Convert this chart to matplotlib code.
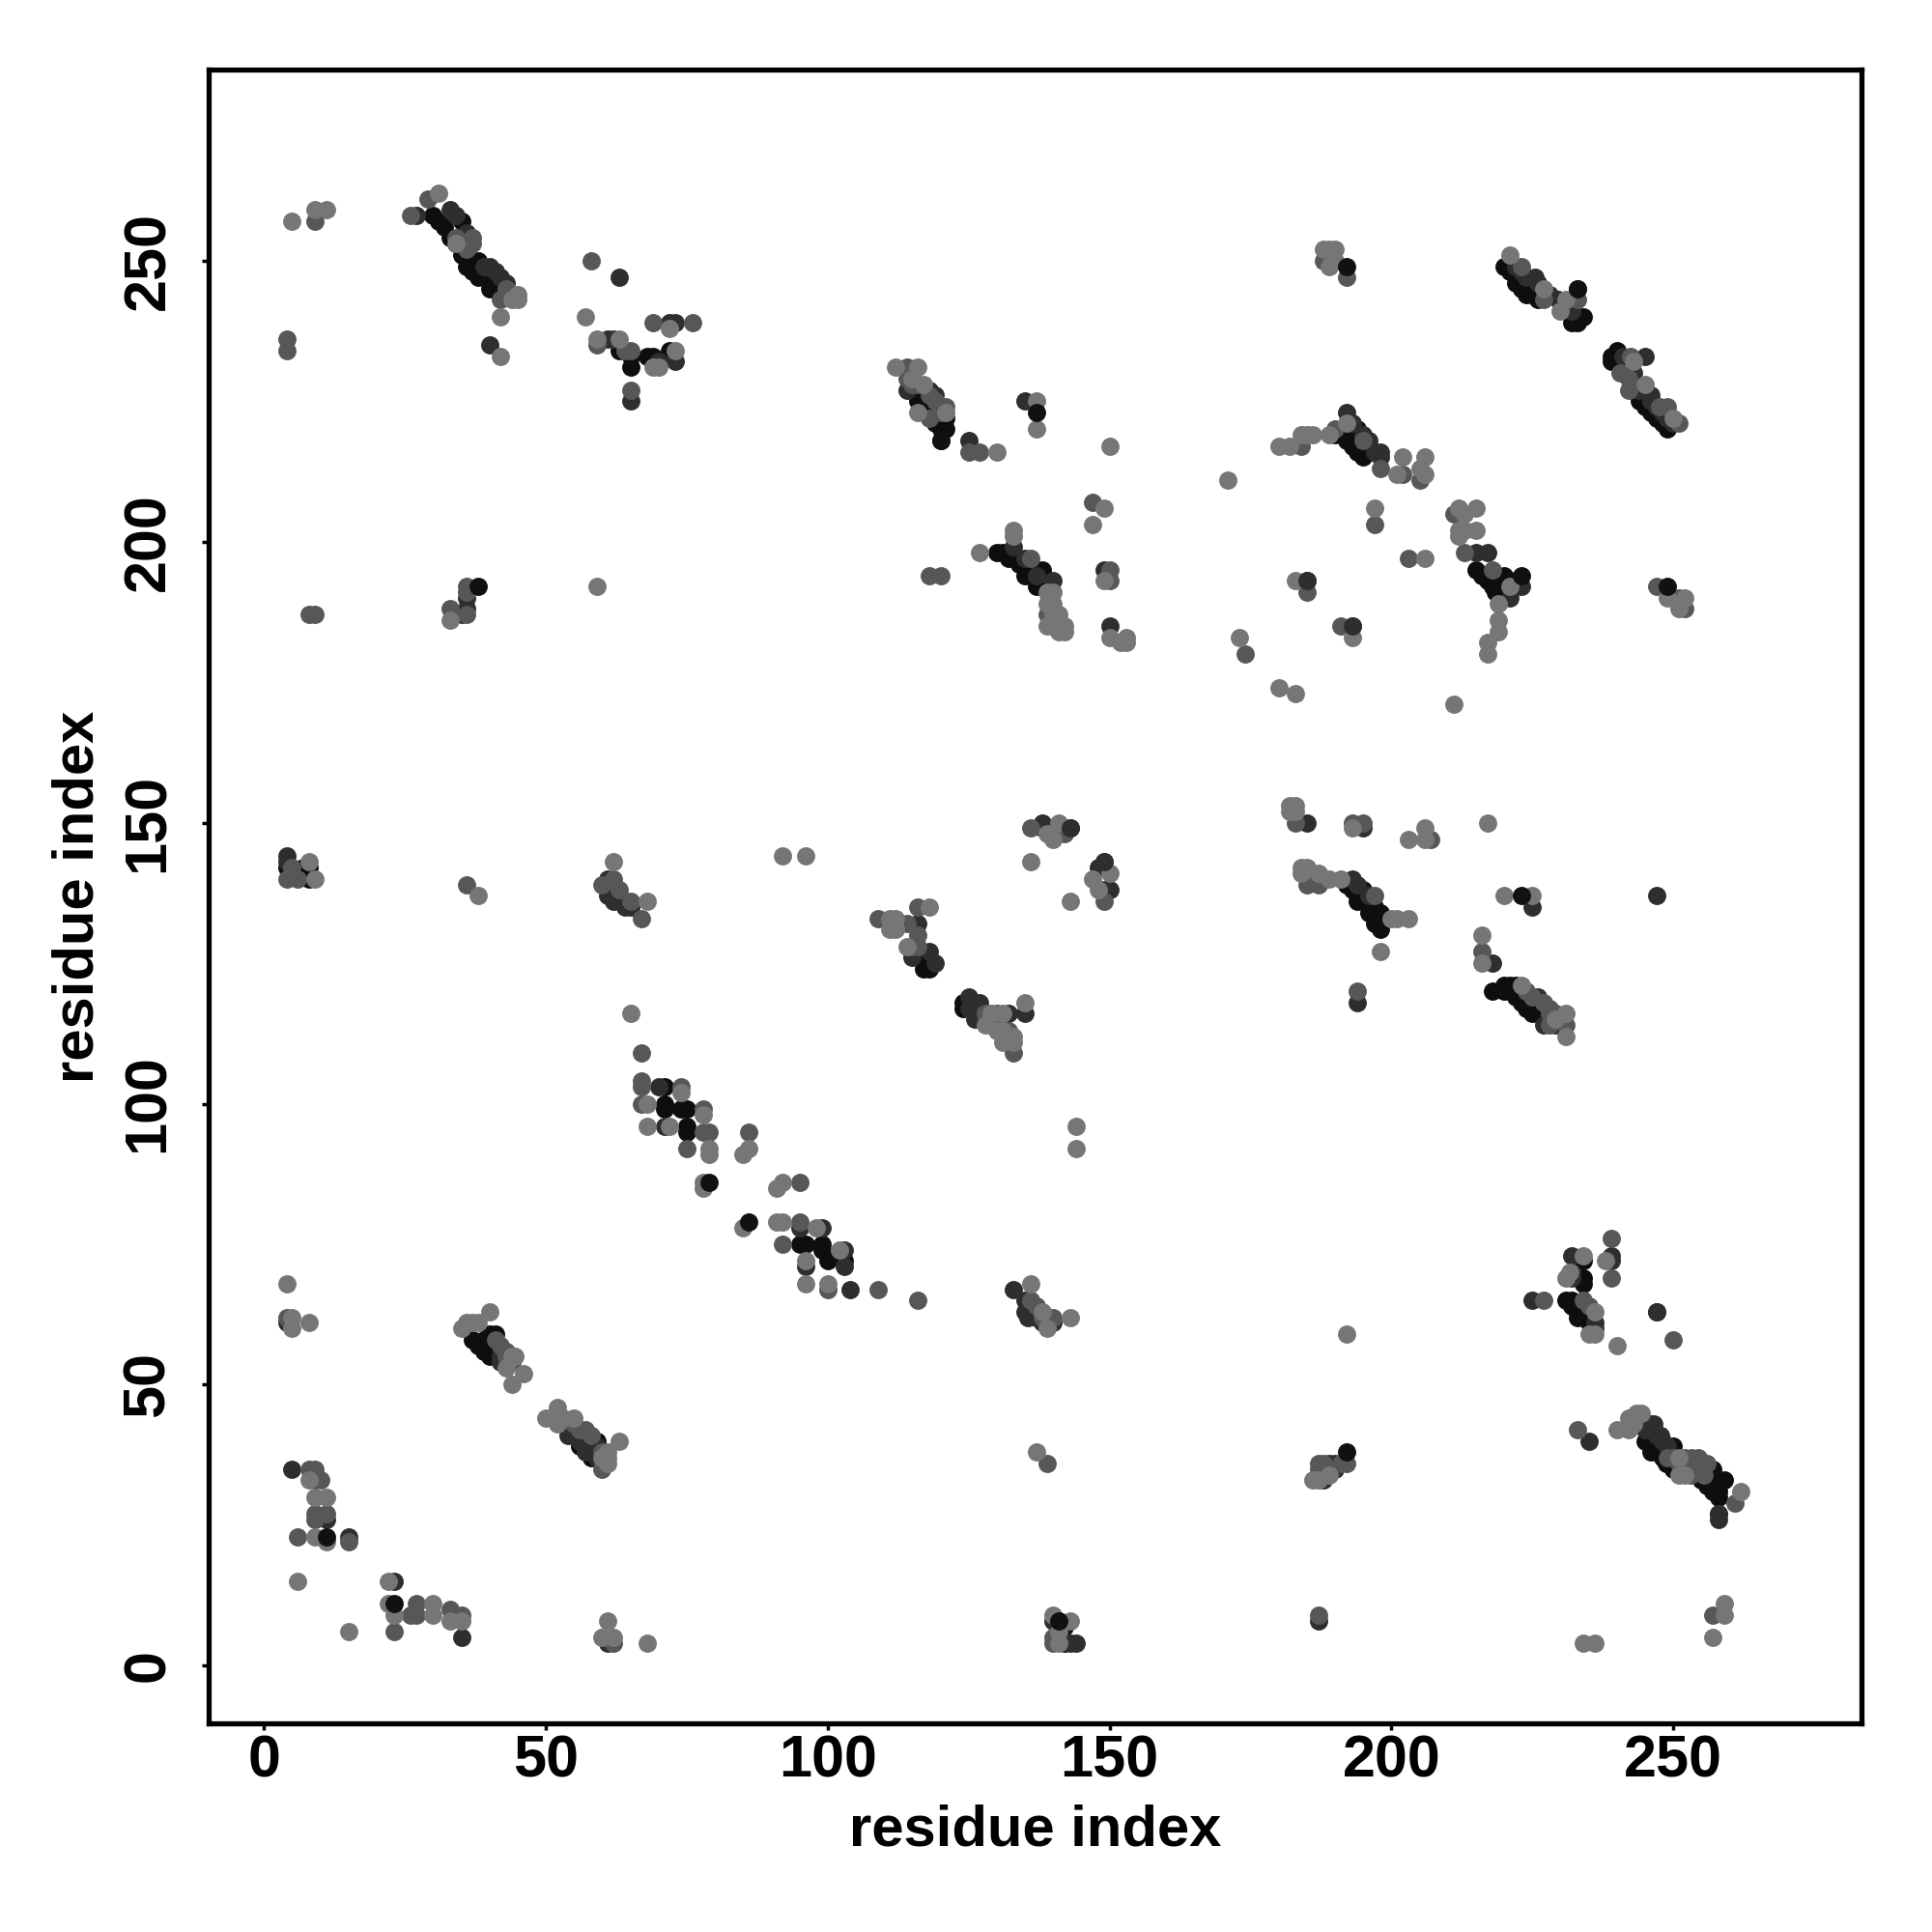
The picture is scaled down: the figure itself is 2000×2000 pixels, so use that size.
import matplotlib
matplotlib.use("Agg")
import matplotlib.pyplot as plt

plt.rcParams['font.family'] = ['Liberation Sans', 'DejaVu Sans']

# layers in drawing order: (x, y) residue contacts per shade of grey
black_pts = [(30,258),(32,256),(35,257),(36,249),(38,250),(38,247),(40,245),(63,234),(65,233),(65,231),(68,233),(69,233),(72,234),
 (116,225),(117,223),(121,222),(120,220),(121,220),(120,218),(130,198),(131,198),(132,197),(133,197),(135,194),(137,192),(138,195),
 (220,249),(222,246),(224,244),(226,243),(232,239),(234,240),(233,240),(233,239),(240,234),(239,233),(239,232),(244,225),(246,223),(249,220),(248,222),
 (190,219),(191,219),(193,217),(194,220),(195,215),(215,195),(217,193),(218.5,191),(220,194),
 (4,142),(7,142),(8,142),(8,140),(71,103),(71,100),(71,99),(74,99),(75,99),(75,96),(75,95),(95,75),(96,75),(99,75),(99,74),(100,72),(103,72),
 (117,124),(118,124),(117,125),(118,126),(124,118),(124,117),(192,139),(195,138),(194,136),(197,135),(198,134),(197,133),(198,132),(198,131),
 (218,120),(220,121),(221,121),(222,121),(220,120),(222,119),(223,118),(224,117),(225,116),
 (37,58),(39,56),(40,59),(41,59),(56,39),(58,37),(59,40),(245,40),(246,38),(250,39),(248.7,36),(256,32),(257,35),(258,30),(258,31),(259,33),
 (231,65),(232,65),(233,62),(234,72),(234,69),(234,68),(141,8),(142,7),(142,4),
 (33,254),(34,253),(35,251),(37,249),(39,247),(40,246),(37,248),(31,257),
 (117,225),(118,224),(119,223),(119,221),(118,226),
 (221,248),(222,247),(223,245),(225,244),(226,244),
 (244,226),(245,224),(247,222),(248,221),(245,226),
 (192,218),(193,219),(194,217),(194,216),(196,216),(196,217),
 (216,194),(218,192),(219,192),(219,193),(220,191),(221,191),(221,193),
 (134,196),(136,195),(136,194),(137,195),
 (193,138),(194,137),(195,136),(196,135),(196,134),(197,134),(196,136),(197,132),
 (221,120),(223,119),(224,118),(225,117),(226,116),(227,115),(226,117),(225,118),
 (38,57),(39,58),(40,55),(41,56),(40,57),
 (246,39),(247,38),(247,40),(248,37),(249,38),(249,36),(250,35),(251,35),(255,33),(256,33),(256,34),(257,31),(258,32),
 (232,64),(233,63),(233,64),(234,62),(234,63),(235,62),(235,61)]
dark_pts = [(27,258),(33,259),(41,248),(40,235),(63,247),(61,236),(62,236),(65,225),(72,239),(73,239),(70,232),(73,232),(36,190),(35,187),(36,188),
 (114,227),(118,227),(119,226),(135,225),(125,218),(133,199),(135,197),(137,194),(140,193),(149,195),(150,185),
 (224,247),(225.5,247),(229.6,243),(233,245),(241,233),(243,230),(244,227),(246,226),(245,233),(198,216),(198,215),(192,223),
 (215,198),(217,198),(223,192),(221,190),(185,193),(193,185),
 (4,144),(4,143),(61,140),(61,138),(62,136),(64,135),(70,103),(71,96),(96,71),(99,78),(95,78),(103,74),(103,71),(104,67),
 (115,126),(118,127),(119,125),(116,132),(125,119),(126,115),(127,118),(132,116),(135,116),
 (138,150),(138,149),(141,148),(143,149),(149,143),(148,142),(149,138),(150,138),(185,150),(195,149),(193,140),(194,118),(218,125),(225,135),(247,137),
 (226,119),(227,114),(229,114),(54,41),(59,39),(4,61),(5,35),(9,33),(11,26),(15,23),(23,15),(35,5),(61,4),
 (133,67),(135,65),(135.5,62),(137,62),(140,61),(189,36),(188,33),(187,8),(140,8),(143,4),(144,4),
 (239,73),(239,72),(232,73),(232,70),(232,69),(225,65),(236,61),(236,60),(247,63),(235,40),(245.9,43),(246.5,43),(247.7,41),(258,27),(258,26),
 (34,258),(36,255),(39,249),(40,249),(42,247),(43,246),
 (222,249),(223,248),(226,246),(228,244),(232,241),
 (246,225),(247,224),(248,223),(249,222),(250,221),
 (193,221),(195,219),(196,218),(197,216),
 (61,137),(63,137),(63,136),(64,136),(65,135),
 (194,139),(196,137),
 (125,117),(126,117),(127,116),(128,115),(129,115),(130,114),(129,114),(131,115),
 (42,55),(42,54),(43,54),
 (54,42),(55,41),(56,40),(57,40),(57,38),(58,39),(59,37),
 (245,42),(246,42),(247,41),(248,40),(249,39),
 (135,63),(136,63),(137,63),(138,61),(139,61),
 (187,34),(188,34),(188,35),(189,35),(190,35),(190,36)]
mid_pts = [(26,258),(29,261),(34,254),(37,254),(37,253),(36,252),(43,245),(42,243),(58,250),(59,235),(64,234),(65,234),(65,227),(69,239),(76,239),
 (8,187),(9,187),(33,188),(36,192),(36,191),(36,187),(4,236),(4,234),(9,257),
 (114,231),(114,229),(116,228),(120,224),(118,222),(125,216),(127,216),(136,197),(139,187),(140,185),(147,207),(150,195),(150,193),(118,194),(120,194),(174,180),
 (188,250),(223,249),(227,243),(233,243),(242.5,233),(240.5,230),(242,229),(242,227),(247.5,224),(249,224),(251,221),(192,247),
 (184,217),(190,220),(195,218),(198,213),(202,212),(205,211),(197,203),(203,197),(211,205),(213,198),(218,195),(185,191),(191,185),(247,192),(251,190),(252,188),
 (4,140),(6,140),(5,142),(36,139),(60,139),(62,140),(63,138),(65,136),(67,133),(67,109),(67,104),(67,103),(74,103),(67,100),(78,99),(78,95),(79,95),(75,92),(86,95),
 (95,86),(95,79),(92,75),(100,67),(109,67),(116,65),(109,133),(114,132),(116,135),(116,130),(115,128),(116,128),(128,116),(130,116),(132,113),(133,109),
 (136,149),(142,148),(149,136),(183,150),(193,150),(195,150),(207,147),(185,139),(187,139),(197,137),(194,120),(216,127),(224,120),(228,117),(231,114),
 (42,57),(43,55),(57,42),(60,35),(4,62),(8,35),(9,35),(10,33),(9,27),(11,27),(9,26),(6,23),(15,22),(23,6),(26,9),(27,9),(27,11),(33,10),(35,9),(62,4),
 (136,65),(137,64),(139,62),(140,62),(139,36),(187,36),(188,36),(191,36),(187,35),(192,36),(140,5),(140,4),(187,9),
 (239,76),(239,69),(227,65),(234,65),(235,64),(250,58),(233,42),(252.1,37),(253.3,37),(254.5,37),(253,34),(255.5,34),(261,29),(257,9),
 (115,228),(118,226),(119,225),(120,223),(121,224),
 (225,119),(227,118),(228,116),(229,116),(228,114),
 (41,58),(43,56),(44,54),
 (55,43),(56,42),(58,41),(60,38),
 (249,37),(250,37),(251,36),(252,35),(253,35),(254,35),(255,35),(256,36),
 (138,62)]
light_pts = [(5,257),(9,259),(11,259),(31,262),(34,253),(44,243),(45,243),(45,244),(42,240),(42,233),(57,240),(59,236),(63,236),(72,238),(69,231),(70,231),(73,234),
 (33,186),(59,192),(112,231),(116,231),(115,229),(117,228),(121,223),(116,223),(130,216),(137,225),(137,220),(150,217),(171,211),(149,206),(147,203),
 (133,202),(133,201),(127,198),(140,191),(139,189),(140,189),(141,187),(139,185),(141,184),(142,185),(142,184),(149,193),(150,183),(152,182),(153,183),(153,182),(173,183),
 (188,252),(189,252),(190,252),(189,249),(190,250),(221,251),(227,245),(231,243),(230,241),(243,232),(245,228),(250,222),
 (180,217),(182,217),(184,219),(185,219),(186,219),(189,219),(192,221),(201,212),(202,215),(206,215),(206,212),(205,213),(197,206),(206,197),(212,206),(215,206),(213,205),
 (212,202),(212,201),(215,202),(213,202),(219,189),(221,192),(219,186),(219,184),(217,182),(217,180),(211,171),(180,174),(183,173),(183,193),(193,183),(249,190),(252,190),(251,188),
 (8,143),(9,140),(38,137),(62,143),(68,136),(92,144),(96,144),(65,116),(74,102),(68,100),(78,98),(68,96),(72,96),(79,92),(79,91),(86,92),(85,91),(78,86),(78,85),(92,86),(91,85),
 (85,78),(91,79),(92,79),(98,78),(102,74),(96,72),(96,68),(100,68),(111,133),(112,133),(111,131),(112,131),(118,135),(114,128),(128,114),(131,116),(135,118),(131,113),(131,111),(133,112),(133,111),
 (136,143),(141,150),(140,147),(139,148),(143,136),(150,141),(147,140),(148,138),(144,96),(144,92),(182,153),(183,153),(182,152),(183,152),(193,149),(203,147),(206,149),(206,147),(217,150),
 (184,142),(185,142),(184,141),(187,141),(189,140),(191,140),(200,133),(201,133),(203,133),(198,127),(220,137),(225,137),(216,130),(216,125),(223,121),(229,115),(231,116),(231,112),
 (40,63),(35,60),(36,61),(38,61),(37,61),(44,55),(44.5,55),(43,53),(46,52),(44,50),(52,46),(50,44),(52,43),(53,44),(55,44),(63,40),(61,38),(61,37),
 (4,68),(5,62),(5,60),(8,61),(8,33),(9,30),(11,30),(9,23),(11,22),(6,15),(22,15),(15,6),(22,11),(23,9),(30,11),(30,9),(33,8),(35,8),(61,8),(60,5),(62,5),(68,4),
 (136,68),(138,63),(139,60),(143,62),(137,38),(192,59),(186,33),(187,33),(189,34),(140,9),(143,8),(141,4),(141,6),
 (238,72),(234,73),(231.6,70),(231,69),(236,63),(235,59),(236,59),(240,57),(240,42),(242,42),(243.5,45),(244.3,45),(242,44),(243,43),(251,37),(252,34),(251,34),(262,31),
 (234,4),(236,4),(259,11),(259,9),(257,5),
 (139,191),(140,187),(141,186),(129,116),(130,113),(60,37),(61,36)]
top_dark_pts = [(185,193),(193,185),(143,149),(149,143),(247,63),(258,27)]
top_black_pts = [(192,249),(192,38),(137,223),(249,192),(223,137),(120,218),(233,245),(223,194),(38,192),(79,86),(86,79),(11,23),(23,11),(141,8)]

tick_values = [0, 50, 100, 150, 200, 250]
axis_label = "residue index"

fig = plt.figure(figsize=(20, 20), dpi=100)
ax = fig.add_axes([216.3/2000, 1-1784/2000, (1927-216.3)/2000, (1784-72.2)/2000])

layers = [(black_pts, '#0e0e0e'), (dark_pts, '#2e2e2e'), (mid_pts, '#575757'), (light_pts, '#767676'),
          (top_dark_pts, '#2e2e2e'), (top_black_pts, '#111111')]
for pts, col in layers:
    ax.scatter([p[0] for p in pts], [p[1] for p in pts], s=185, c=col, linewidths=0, zorder=2)

ax.set_xlim(-9.77, 283.38)
ax.set_ylim(-10.25, 283.95)
ax.set_xticks(tick_values)
ax.set_yticks(tick_values)
ax.tick_params(axis='both', length=5, width=2.5, labelsize=44)
ax.tick_params(axis='x', pad=3.5)
ax.tick_params(axis='y', pad=19)
for lab in ax.get_xticklabels() + ax.get_yticklabels():
    lab.set_fontweight('bold')
for lab in ax.get_yticklabels():
    lab.set_rotation(90)
    lab.set_va('center')
for s in ax.spines.values():
    s.set_linewidth(3.8)
ax.set_xlabel(axis_label, fontsize=43, fontweight='bold')
ax.set_ylabel(axis_label, fontsize=43, fontweight='bold')
ax.xaxis.set_label_coords(0.5, -(1895-1784)/1711.8, transform=ax.transAxes)
ax.xaxis.label.set_va('center')
ax.yaxis.set_label_coords(-(216.3-81)/1710.7, 0.5, transform=ax.transAxes)
ax.yaxis.label.set_va('center')

fig.savefig("out.png", dpi=100, facecolor='white')
